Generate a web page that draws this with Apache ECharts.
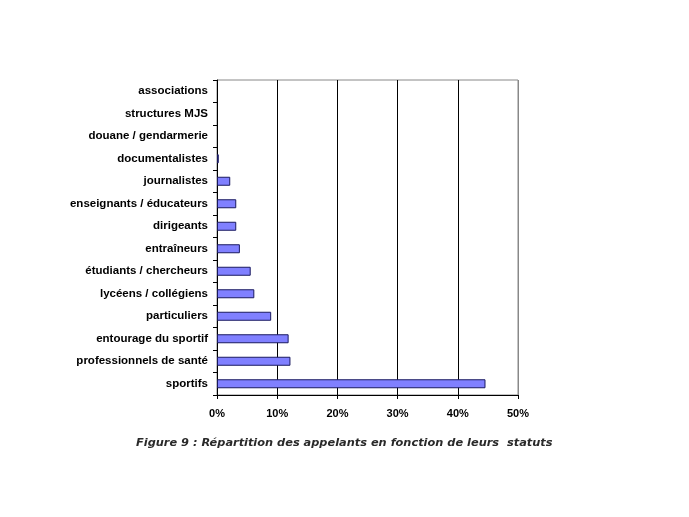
<!DOCTYPE html>
<html>
<head>
<meta charset="utf-8">
<script src="https://cdn.jsdelivr.net/npm/echarts@6/dist/echarts.min.js"></script>
<style>html,body{margin:0;padding:0;background:#fff;}#c{width:689px;height:517px;}</style>
</head>
<body>
<div id="c"></div>
<script>
const categories = ['associations','structures MJS','douane / gendarmerie','documentalistes','journalistes','enseignants / éducateurs','dirigeants','entraîneurs','étudiants / chercheurs','lycéens / collégiens','particuliers','entourage du sportif','professionnels de santé','sportifs'];
const values = [0, 0, 0, 0.3, 2.2, 3.2, 3.2, 3.8, 5.6, 6.2, 9.0, 11.9, 12.2, 44.6];
const xTicks = [0, 10, 20, 30, 40, 50];
const caption = 'Figure 9 : Répartition des appelants en fonction de leurs  statuts';

const chart = echarts.init(document.getElementById('c'), null, {renderer: 'canvas'});
chart.setOption({
  backgroundColor: '#fff',
  animation: false,
  title: {
    text: caption,
    left: 131, top: 433,
    textStyle: {fontFamily: 'DejaVu Sans', fontStyle: 'italic', fontWeight: 'bold', fontSize: 11.35, color: '#2a2a2a'}
  },
  grid: {left: 217, top: 80, width: 301, height: 315, show: true, borderColor: '#888', borderWidth: 1},
  xAxis: {
    type: 'value', min: xTicks[0], max: xTicks[xTicks.length - 1], interval: 10,
    axisLine: {show: true, lineStyle: {color: '#000', width: 1}},
    axisTick: {show: true, length: 4, lineStyle: {color: '#000'}},
    axisLabel: {formatter: v => v + '%', fontFamily: 'Liberation Sans', fontWeight: 'bold', fontSize: 11, color: '#000', margin: 13},
    splitLine: {show: true, lineStyle: {color: ['#000','#000','#000','#000','#000','#888'], width: 1}}
  },
  yAxis: {
    type: 'category', data: categories, inverse: true,
    axisLine: {show: true, lineStyle: {color: '#000', width: 1}},
    axisTick: {show: true, length: 4, lineStyle: {color: '#000'}},
    axisLabel: {fontFamily: 'Liberation Sans', fontWeight: 'bold', fontSize: 11.5, color: '#000', margin: 9}
  },
  series: [{
    type: 'bar', barWidth: 9,
    data: values.map(v => v === 0 ? {value: v, itemStyle: {borderWidth: 0, opacity: 0}} : v),
    itemStyle: {color: '#8080ff', borderColor: '#1a1a60', borderWidth: 1}
  }]
});
</script>
</body>
</html>
